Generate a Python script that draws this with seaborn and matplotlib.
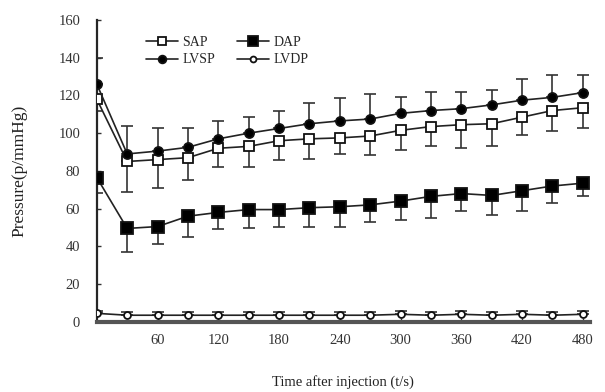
import numpy as np
import pandas as pd
import matplotlib
matplotlib.use("Agg")
import matplotlib.pyplot as plt
import seaborn as sns

# time points (s)
time = [0, 30, 60, 90, 120, 150, 180, 210, 240, 270, 300, 330, 360, 390, 420, 450, 480]

# mean values (mmHg)
sap = [118, 85, 86, 87, 92, 93, 96, 97, 97.5, 98.5, 101.5, 103.5, 104.5, 105, 108.5, 112, 113.5]
dap = [76.5, 49.5, 50.5, 56, 58, 59.5, 59.5, 60.5, 61, 62, 64, 66.5, 68, 67, 69.5, 72, 73.5]
lvsp = [126, 89, 90.5, 92.5, 97, 100, 102.5, 105, 106.5, 107.5, 110.5, 112, 113, 115, 117.5, 119, 121.5]
lvdp = [4.5, 3.5, 3.5, 3.5, 3.5, 3.5, 3.5, 3.5, 3.5, 3.5, 4, 3.5, 4, 3.5, 4, 3.5, 4]

# one-sided error bars (SD)
sap_err = [6, 16, 15, 12, 10, 11, 10, 10.5, 8.5, 10, 10.5, 10.5, 12.5, 12, 9.5, 11, 11]
dap_err = [8, 12.5, 9.5, 11, 9, 10, 9, 10, 10.5, 9, 10, 11.5, 9, 10.5, 10.5, 9, 7]
lvsp_err = [14, 15, 12.5, 10.5, 9.5, 8.5, 9.5, 11, 12, 13.5, 8.5, 10, 9, 8, 11, 12, 9.5]
lvdp_err = [1.5, 1.5, 1.5, 1.5, 1.5, 1.5, 1.5, 1.5, 1.5, 1.5, 1.5, 1.5, 1.5, 1.5, 1.5, 1.5, 1.5]

x_ticks = [60, 120, 180, 240, 300, 360, 420, 480]
y_ticks = [0, 20, 40, 60, 80, 100, 120, 140, 160]

sns.set_style("ticks")
plt.rcParams['font.family'] = ['Liberation Serif', 'DejaVu Serif']

fig = plt.figure(figsize=(6.05, 3.92), dpi=100)
ax = fig.add_axes([0.16, 0.179, 0.815, 0.77])

series = [
    ('SAP', sap, sap_err, 's', 'white', 'down', 6.5),
    ('LVSP', lvsp, lvsp_err, 'o', 'black', 'up', 6.5),
    ('DAP', dap, dap_err, 's', 'black', 'down', 8.5),
    ('LVDP', lvdp, lvdp_err, 'o', 'white', 'up', 5),
]

for name, vals, err, mk, fc, side, ms in series:
    df = pd.DataFrame({'time': time, 'value': vals})
    zero = np.zeros(len(err))
    yerr = [zero, err] if side == 'up' else [err, zero]
    ax.errorbar(time, vals, yerr=yerr, fmt='none', ecolor='#333333',
                elinewidth=1.2, capsize=4, capthick=1.2, zorder=2)
    sns.lineplot(data=df, x='time', y='value', ax=ax, color='#222222',
                 linewidth=1.2, marker=mk, markersize=ms,
                 markerfacecolor=fc, markeredgecolor='#111111',
                 markeredgewidth=1.3, label=name, zorder=3)

ax.set_xlim(0, 487)
ax.set_ylim(0, 160)
ax.set_xticks(x_ticks)
ax.set_yticks(y_ticks)
ax.tick_params(direction='in', length=3, width=1, labelsize=10.5, colors='#333333')
ax.tick_params(axis='x', pad=9)
ax.tick_params(axis='y', pad=12)
for sp in ['top', 'right']:
    ax.spines[sp].set_visible(False)
ax.spines['left'].set_linewidth(1.6)
ax.spines['bottom'].set_linewidth(3)
ax.spines['bottom'].set_color('#555555')

ax.set_xlabel('Time after injection (t/s)', fontsize=10.5, labelpad=20, color='#222222')
ax.set_ylabel('Pressure(p/mmHg)', fontsize=12.5, labelpad=22, color='#222222')

handles, labels = ax.get_legend_handles_labels()
ax.legend(handles, labels, ncol=2, loc='upper left', bbox_to_anchor=(0.075, 0.99),
          frameon=False, fontsize=10, handlelength=2.3, columnspacing=1.6,
          handletextpad=0.3, labelspacing=0.35, markerscale=0.85)

fig.savefig('out.png', dpi=100)
